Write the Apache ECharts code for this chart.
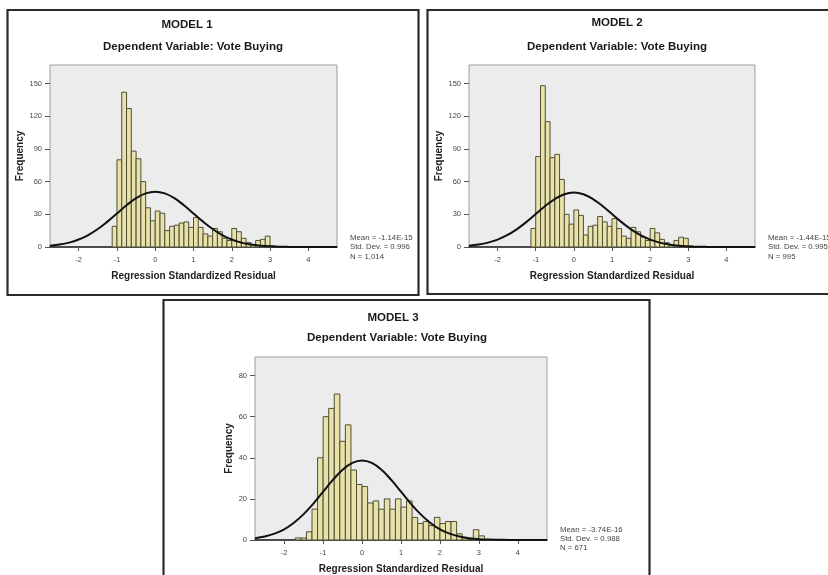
<!DOCTYPE html>
<html>
<head>
<meta charset="utf-8">
<script src="https://cdn.jsdelivr.net/npm/echarts@6/dist/echarts.min.js"></script>
<style>
html,body{margin:0;padding:0;background:#fff;}
#chart{width:828px;height:575px;}
</style>
</head>
<body>
<div id="chart"></div>
<script>
// ---------- data ----------
const xTickValues = [-2, -1, 0, 1, 2, 3, 4];
const yTicks12 = [0, 30, 60, 90, 120, 150];
const yTicks3 = [0, 20, 40, 60, 80];

// Model 1 histogram (bin width 0.125 starting at -1.125)
const model1BinStart = -1.125;
const model1BinWidth = 0.125;
const model1Counts = [19, 80, 142, 127, 88, 81, 60, 36, 24, 33, 31, 15, 19, 20, 22, 23, 18, 27, 18, 12, 10, 17, 14, 8, 6, 17, 14, 8, 4, 2, 6, 7, 10, 1];

// Model 2 histogram
const model2BinStart = -1.125;
const model2BinWidth = 0.125;
const model2Counts = [17, 83, 148, 115, 82, 85, 62, 30, 21, 34, 29, 11, 19, 20, 28, 23, 19, 26, 17, 10, 8, 18, 14, 9, 6, 17, 13, 7, 4, 2, 6, 9, 8, 1];

// Model 3 histogram (bin width 1/7 starting at -12/7)
const model3BinStart = -12 / 7;
const model3BinWidth = 1 / 7;
const model3Counts = [1, 1, 4, 15, 40, 60, 64, 71, 48, 56, 34, 27, 26, 18, 19, 15, 20, 15, 20, 16, 19, 11, 8, 9, 7, 11, 8, 9, 9, 3, 1, 0, 5, 2];

// Normal curve readings
const curveX = [-2.75, -2.5, -2.25, -2, -1.75, -1.5, -1.25, -1, -0.75, -0.5, -0.25, 0, 0.25, 0.5, 0.75, 1, 1.25, 1.5, 1.75, 2, 2.25, 2.5, 2.75, 3, 3.25, 3.5, 3.75, 4, 4.25, 4.5, 4.75];
const model1Curve = [1.2, 2.2, 4.0, 6.9, 11.0, 16.5, 23.3, 30.8, 38.3, 44.8, 49.2, 50.8, 49.2, 44.8, 38.3, 30.8, 23.3, 16.5, 11.0, 6.9, 4.0, 2.2, 1.2, 0.6, 0.26, 0.11, 0.04, 0.02, 0, 0, 0];
const model2Curve = [1.1, 2.2, 4.0, 6.8, 10.8, 16.2, 22.8, 30.3, 37.7, 44.0, 48.4, 49.9, 48.4, 44.0, 37.7, 30.3, 22.8, 16.2, 10.8, 6.8, 4.0, 2.2, 1.1, 0.55, 0.25, 0.11, 0.04, 0.02, 0, 0, 0];
const model3Curve = [0.9, 1.7, 3.1, 5.2, 8.4, 12.6, 17.7, 23.5, 29.2, 34.2, 37.5, 38.7, 37.5, 34.2, 29.2, 23.5, 17.7, 12.6, 8.4, 5.2, 3.1, 1.7, 0.9, 0.4, 0.2, 0.1, 0.04, 0.01, 0, 0, 0];

// Texts
const modelTitles = ['MODEL 1', 'MODEL 2', 'MODEL 3'];
const subTitle = 'Dependent Variable: Vote Buying';
const xName = 'Regression Standardized Residual';
const yName = 'Frequency';
const model1Stats = ['Mean = -1.14E-15', 'Std. Dev. = 0.996', 'N = 1,014'];
const model2Stats = ['Mean = -1.44E-15', 'Std. Dev. = 0.995', 'N = 995'];
const model3Stats = ['Mean = -3.74E-16', 'Std. Dev. = 0.988', 'N = 671'];

// ---------- build ----------
const FONT = '"Liberation Sans", Arial, sans-serif';

function binData(start, width, counts) {
  return counts.map((c, i) => [start + i * width, start + (i + 1) * width, c]);
}
function curveData(ys) {
  return curveX.map((x, i) => [x, ys[i]]);
}

const panels = [
  {grid: {left: 50, top: 65, width: 287, height: 182}, yMax: 167, yTicks: yTicks12,
   bins: binData(model1BinStart, model1BinWidth, model1Counts), curve: curveData(model1Curve), yGap: 25},
  {grid: {left: 469, top: 65, width: 286, height: 182}, yMax: 167, yTicks: yTicks12,
   bins: binData(model2BinStart, model2BinWidth, model2Counts), curve: curveData(model2Curve), yGap: 25},
  {grid: {left: 255, top: 357, width: 292, height: 183}, yMax: 89, yTicks: yTicks3,
   bins: binData(model3BinStart, model3BinWidth, model3Counts), curve: curveData(model3Curve), yGap: 21}
];

const grids = [], xAxes = [], yAxes = [], series = [];
panels.forEach((p, i) => {
  grids.push(Object.assign({show: true, backgroundColor: '#ececec', borderColor: '#9c9c9c', borderWidth: 1, containLabel: false}, p.grid));
  xAxes.push({
    type: 'value', gridIndex: i, min: -2.75, max: 4.75,
    name: xName, nameLocation: 'middle', nameGap: 24,
    nameTextStyle: {fontFamily: FONT, fontWeight: 'bold', fontSize: 10, color: '#222'},
    axisLine: {show: true, onZero: false, lineStyle: {color: '#222', width: 1.5}},
    axisTick: {show: true, length: 4, customValues: xTickValues, lineStyle: {color: '#555'}},
    axisLabel: {customValues: xTickValues, fontFamily: FONT, fontSize: 7.5, color: '#444', margin: 9},
    splitLine: {show: false}
  });
  yAxes.push({
    type: 'value', gridIndex: i, min: 0, max: p.yMax,
    name: yName, nameLocation: 'middle', nameGap: p.yGap, nameRotate: 90,
    nameTextStyle: {fontFamily: FONT, fontWeight: 'bold', fontSize: 10, color: '#222'},
    axisLine: {show: false, onZero: false},
    axisTick: {show: true, length: 5, customValues: p.yTicks, lineStyle: {color: '#555'}},
    axisLabel: {customValues: p.yTicks, fontFamily: FONT, fontSize: 7.5, color: '#444', margin: 8},
    splitLine: {show: false}
  });
  series.push({
    type: 'custom', xAxisIndex: i, yAxisIndex: i,
    data: p.bins,
    encode: {x: [0, 1], y: 2},
    renderItem: function (params, api) {
      const a = api.coord([api.value(0), api.value(2)]);
      const b = api.coord([api.value(1), 0]);
      return {
        type: 'rect',
        shape: {x: a[0], y: a[1], width: b[0] - a[0], height: b[1] - a[1]},
        style: {fill: '#e8e2aa', stroke: '#4f4f36', lineWidth: 1}
      };
    },
    z: 2
  });
  series.push({
    type: 'line', xAxisIndex: i, yAxisIndex: i,
    data: p.curve, smooth: 0.4, showSymbol: false, symbol: 'none',
    lineStyle: {color: '#111', width: 2}, z: 3, clip: true
  });
});

function txt(text, x, y, size, bold, align) {
  return {type: 'text', z: 10, style: {text: text, x: x, y: y, fontFamily: FONT, fontSize: size,
    fontWeight: bold ? 'bold' : 'normal', fill: '#1a1a1a', align: align || 'center',
    verticalAlign: 'middle'}};
}
function stats(lines, x, y, lh) {
  return {type: 'text', z: 10, style: {text: lines.join('\n'), x: x, y: y, fontFamily: FONT, fontSize: 7.8,
    fill: '#444', align: 'left', verticalAlign: 'top', lineHeight: lh}};
}
function frame(x, y, w, h) {
  return {type: 'rect', z: 0, shape: {x: x, y: y, width: w, height: h},
    style: {fill: 'none', stroke: '#2b2b2b', lineWidth: 2.2}};
}

const graphics = [
  frame(7.5, 10, 411, 285),
  frame(427.5, 10, 420, 284),
  frame(163.5, 300, 486, 300),
  txt(modelTitles[0], 187, 25, 11.5, true),
  txt(subTitle, 193, 47, 11.5, true),
  txt(modelTitles[1], 617, 23, 11.5, true),
  txt(subTitle, 617, 47, 11.5, true),
  txt(modelTitles[2], 393, 318, 11.5, true),
  txt(subTitle, 397, 338, 11.5, true),
  stats(model1Stats, 350, 233, 9.5),
  stats(model2Stats, 768, 233, 9.5),
  stats(model3Stats, 560, 525.5, 8.8)
];

const chart = echarts.init(document.getElementById('chart'), null, {renderer: 'canvas'});
chart.setOption({
  animation: false,
  backgroundColor: '#ffffff',
  grid: grids,
  xAxis: xAxes,
  yAxis: yAxes,
  series: series,
  graphic: graphics
});
</script>
</body>
</html>
